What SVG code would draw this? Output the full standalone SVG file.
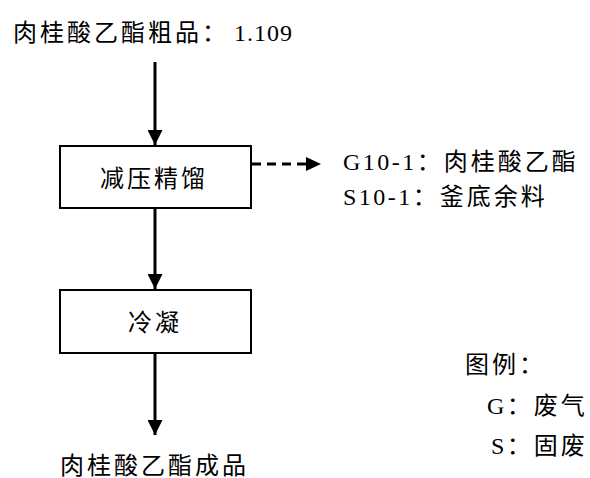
<svg xmlns="http://www.w3.org/2000/svg" width="590" height="478" viewBox="0 0 590 478">
<defs>
<style>
text{font-family:"Liberation Serif","Noto Sans CJK SC",serif;font-size:24px;letter-spacing:3px;fill:#000}
.lat{letter-spacing:2.5px}
.num{letter-spacing:1px}
.box{fill:#fff;stroke:#000;stroke-width:2}
.ln{stroke:#000;stroke-width:3;fill:none}
.dash{stroke:#000;stroke-width:3;fill:none;stroke-dasharray:9,6}
</style>
<marker id="ah" viewBox="0 0 10 10" refX="10" refY="5" markerWidth="15" markerHeight="15" markerUnits="userSpaceOnUse" orient="auto"><path d="M0,0 L10,5 L0,10 Z" fill="#000"/></marker>
</defs>
<g id="connectors">
<line class="ln" x1="155" y1="62" x2="155" y2="145" marker-end="url(#ah)"/>
<line class="ln" x1="155" y1="208" x2="155" y2="289" marker-end="url(#ah)"/>
<line class="ln" x1="155" y1="353" x2="155" y2="435" marker-end="url(#ah)"/>
<line class="dash" x1="252" y1="164" x2="306" y2="164"/>
<path d="M306,157 L321,164 L306,171 Z" fill="#000"/>
</g>
<g id="input"><text x="13" y="41">肉桂酸乙酯粗品：<tspan class="num" dx="5">1.109</tspan></text></g>
<g id="distill">
<rect class="box" x="60" y="146" width="191" height="62"/>
<text x="100" y="187">减压精馏</text>
</g>
<g id="outputs">
<text x="343" y="170"><tspan class="lat">G10-1</tspan>：肉桂酸乙酯</text>
<text x="343" y="205"><tspan class="lat">S10-1</tspan>：釜底余料</text>
</g>
<g id="condense">
<rect class="box" x="60" y="290" width="191" height="63"/>
<text x="128" y="331">冷凝</text>
</g>
<g id="product"><text x="60" y="474">肉桂酸乙酯成品</text></g>
<g id="legend">
<text x="465" y="373">图例：</text>
<text x="487" y="414"><tspan class="lat">G</tspan>：废气</text>
<text x="491" y="454"><tspan class="lat">S</tspan>：固废</text>
</g>
</svg>
